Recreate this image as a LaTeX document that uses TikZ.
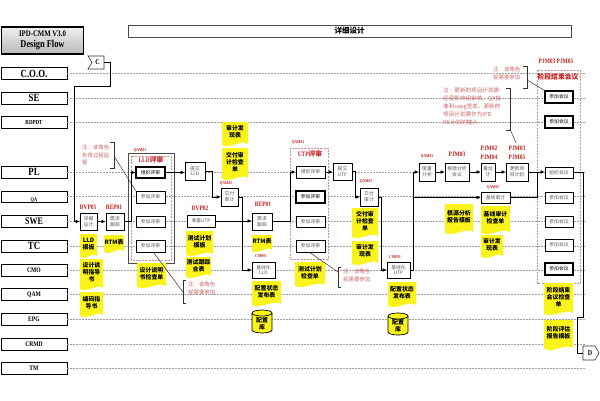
\documentclass[tikz,border=0pt]{standalone}
\usepackage{fontspec}
\setmainfont{Liberation Serif}[FakeStretch=0.8]
\newfontfamily\cjk{Noto Sans CJK SC}
\usetikzlibrary{arrows.meta,calc}
\definecolor{labred}{HTML}{C81E1E}
\definecolor{notec}{HTML}{CF6262}
\definecolor{docy}{HTML}{FAF41A}
\definecolor{grpc}{HTML}{D98A8A}
\newcommand{\mkbox}[7][]{\node[pbox,#1,minimum width={(#5-#3)*1pt},minimum height={(#6-#4)*1pt}] (#2) at ({(#3+#5)/2},{(#4+#6)/2}) {#7};}
\newcommand{\mkdoc}[6]{%
  \fill[docy] (#2,#3) -- (#4,#3) -- (#4,#5-2) .. controls ({#2+0.75*(#4-#2)},#5-7) and ({#2+0.35*(#4-#2)},#5+3) .. (#2,#5-1) -- cycle;
  \node[doctext] (#1) at ({(#2+#4)/2},{(#3+#5)/2-2}) {#6};}
\newcommand{\mkcyl}[6]{%
  \pgfmathsetmacro\cylr{(#4-#2)/2}
  \filldraw[cylst] (#2,#3+3) -- (#2,#5-3) arc[start angle=180,end angle=360,x radius=\cylr pt,y radius=3pt] -- (#4,#3+3) arc[start angle=0,end angle=180,x radius=\cylr pt,y radius=3pt] -- cycle;
  \draw[cylst] (#2,#3+3) arc[start angle=180,end angle=360,x radius=\cylr pt,y radius=3pt];
  \node[doctext] (#1) at ({(#2+#4)/2},{(#3+#5)/2+2}) {#6};}
\begin{document}
\begin{tikzpicture}[x=1pt,y=-1pt,
  lane/.style={draw=gray!75,line width=0.8pt,dash pattern=on 2pt off 1pt},
  lanebox/.style={draw,line width=0.8pt,fill=white,minimum width=66pt,minimum height=12pt,inner sep=0pt,font=\bfseries\fontsize{11}{11}\selectfont},
  lanesm/.style={lanebox,font=\bfseries\fontsize{7}{7}\selectfont},
  pbox/.style={draw,line width=0.7pt,fill=white,inner sep=0pt,align=center,text=black!65,font=\cjk\fontsize{4.8}{5.8}\selectfont},
  thk/.style={line width=1.2pt,text=black},
  doctext/.style={inner sep=0pt,align=center,text=black,font=\cjk\bfseries\fontsize{5.9}{7.2}\selectfont},
  cylst/.style={draw=black,fill=docy,line width=0.7pt},
  lab/.style={inner sep=0pt,text=labred,font=\bfseries\fontsize{6.8}{7}\selectfont},
  labs/.style={inner sep=0pt,text=labred,font=\bfseries\fontsize{4.4}{5}\selectfont},
  labc/.style={inner sep=0pt,text=labred,font=\bfseries\fontsize{6.8}{7}\selectfont},
  note/.style={inner sep=0pt,align=left,anchor=north west,text=notec,font=\cjk\fontsize{5.4}{7.5}\selectfont},
  brk/.style={draw=black!80,line width=0.5pt},
  grp/.style={draw=grpc,line width=0.7pt,dash pattern=on 2pt off 1.2pt},
  conn/.style={draw=black,line width=0.6pt},
  arr/.style={conn,-{Latex[length=4pt,width=3.6pt]}},
  flagst/.style={draw=black!80,line width=0.6pt,fill=white}]
\useasboundingbox (0,0) rectangle (600,400);
\fill[white] (0,0) rectangle (600,400);
\coordinate (endx) at (586,0);
% title and header
\node[draw,line width=1.3pt,top color=gray!12,bottom color=gray!55,minimum width=82pt,minimum height=27pt,inner sep=0pt,align=center,font=\bfseries\fontsize{8.5}{11}\selectfont] (title) at (42.5,40.5) {IPD-CMM V3.0\\{\fontsize{10.5}{11}\selectfont Design Flow}};
\node[draw=gray!60!black,line width=0.9pt,fill=white,minimum width=443pt,minimum height=12pt,inner sep=0pt,font=\cjk\bfseries\fontsize{7.5}{8}\selectfont] (hdr) at (349.5,31) {详细设计};
% lanes
\node[lanebox] (lcoo) at (34,73.5) {C.O.O.};
\node[lanebox] (lse) at (34,98) {SE};
\node[lanesm,font=\bfseries\fontsize{6.2}{7}\selectfont] (lrd) at (34,122.5) {RDPDT};
\node[lanebox] (lpl) at (34,172) {PL};
\node[lanesm,minimum height=11pt] (lqa) at (34,196.5) {};
\node[inner sep=0pt,font=\bfseries\fontsize{5.5}{6}\selectfont] (lqat) at (34,200) {QA};
\node[lanebox,font=\bfseries\fontsize{10}{10}\selectfont] (lswe) at (34,221.5) {SWE};
\node[lanebox] (ltc) at (34,246) {TC};
\node[lanesm] (lcmo) at (34,270) {CMO};
\node[lanesm] (lqam) at (34,294.5) {QAM};
\node[lanesm] (lepg) at (34,319.5) {EPG};
\node[lanesm] (lcrmd) at (34,344) {CRMD};
\node[lanesm] (ltm) at (34,368.5) {TM};
\foreach \n in {lcoo,lse,lrd,lpl,lqa,lswe,ltc,lcmo,lqam,lepg,lcrmd,ltm}
  \draw[lane] (\n.east) -- (\n.east -| endx);
% C flag
\draw[flagst] (88,56) -- (104,56) -- (104,69) -- (88,69) -- (92,62.5) -- cycle;
\node[inner sep=0pt,font=\bfseries\fontsize{7.5}{8}\selectfont] (cflag) at (97.5,62.5) {C};
\coordinate (cout) at (104,62.5);
% D flag
\draw[flagst] (583,346) -- (595,346) -- (599,353) -- (595,360) -- (583,360) -- cycle;
\node[inner sep=0pt,font=\bfseries\fontsize{7.5}{8}\selectfont] (dflag) at (590,353) {D};
\coordinate (din) at (583,353);
% groups
\draw[draw=gray!60!black,line width=0.6pt] (128,153) rectangle (174,263);
\draw[grp] (131,156) rectangle (171,260);
\draw[grp] (290,148) rectangle (328,259);
\draw[grp] (537,70) rectangle (580,283);
% process boxes
\mkbox{dvp05}{80}{213}{97}{230}{详细\\设计}
\mkbox{rep01a}{106}{213}{124}{230}{需求\\跟踪}
\mkbox[thk]{lldorg}{136}{167}{165}{178}{组织评审}
\mkbox{lldqa}{136}{191}{165}{203}{参加评审}
\mkbox{lldswe}{136}{216}{165}{227}{参加评审}
\mkbox{lldtc}{136}{240}{165}{252}{参加评审}
\mkbox{tlld}{185}{162}{205}{180}{提交\\LLD}
\mkbox{jfsj1}{221}{188}{238}{206}{交付\\审计}
\mkbox{zbutp}{187}{215}{215}{227}{准备UTP}
\mkbox{rep01b}{252}{213}{272}{230}{需求\\跟踪}
\mkbox{jxlld}{252}{262}{275}{278}{基线化\\LLD}
\mkbox{utporg}{296}{166}{325}{178}{组织评审}
\mkbox[thk]{utpqa}{296}{191}{325}{203}{参加评审}
\mkbox{utpswe}{296}{216}{325}{227}{参加评审}
\mkbox{utptc}{296}{240}{325}{252}{参加评审}
\mkbox{tutp}{333}{163}{352}{180}{提交\\UTP}
\mkbox{jfsj2}{360}{188}{378}{206}{交付\\审计}
\mkbox{jxutp}{387}{262}{410}{278}{基线化\\UTP}
\mkbox{dlfx}{419}{163}{435}{181}{度量\\分析}
\mkbox{gyfx}{445}{163}{469}{181}{根源分析\\会议}
\mkbox{cgj}{481}{163}{495}{181}{重估\\计}
\mkbox{gxjh}{506}{163}{528}{181}{更新项\\目计划}
\mkbox{jxsj}{481}{192}{510}{203}{基线审计}
\mkbox[thk]{chse}{545}{91}{573}{103}{参加会议}
\mkbox[thk]{chrd}{545}{116}{573}{128}{参加会议}
\mkbox{zzhy}{545}{167}{573}{178}{组织会议}
\mkbox{chqa}{545}{192}{573}{203}{参加会议}
\mkbox{chswe}{545}{216}{573}{227}{参加会议}
\mkbox{chtc}{545}{239}{573}{251}{参加会议}
\mkbox[thk]{chcmo}{545}{263}{573}{275}{参加会议}
% documents
\mkdoc{d1}{222}{122}{248}{146}{审计发\\现表}
\mkdoc{d2}{222}{148}{248}{180}{交付审\\计检查\\单}
\mkdoc{d3}{80}{234}{97}{258}{LLD\\模板}
\mkdoc{d4}{104}{235}{124}{253}{RTM表}
\mkdoc{d5}{80}{259}{103}{290}{设计说\\明指导\\书}
\mkdoc{d6}{80}{292}{103}{317}{编码指\\导书}
\mkdoc{d7}{137}{263}{166}{288}{设计说明\\书检查单}
\mkdoc{d8}{186}{231}{213}{256}{测试计划\\模板}
\mkdoc{d9}{186}{257}{211}{278}{测试跟踪\\合表}
\mkdoc{d10}{252}{235}{272}{252}{RTM表}
\mkdoc{d11}{252}{281}{281}{306}{配置状态\\发布表}
\mkcyl{cyl1}{252}{310}{272}{333}{配置\\库}
\mkdoc{d12}{295}{262}{325}{287}{测试计划\\检查单}
\mkdoc{d13}{352}{208}{378}{238}{交付审\\计检查\\单}
\mkdoc{d14}{352}{241}{378}{265}{审计发\\现表}
\mkdoc{d15}{388}{282}{416}{307}{配置状态\\发布表}
\mkcyl{cyl2}{388}{313}{408}{335}{配置\\库}
\mkdoc{d16}{445}{204}{473}{234}{根源分析\\报告模板}
\mkdoc{d17}{481}{206}{510}{234}{基线审计\\检查单}
\mkdoc{d18}{481}{235}{503}{258}{审计发\\现表}
\mkdoc{d19}{544}{283}{573}{315}{阶段结束\\会议检查\\单}
\mkdoc{d20}{544}{320}{573}{350}{阶段评估\\报告模板}
% red labels
\node[lab] (l1) at (88,207) {DVP05};
\node[lab] (l2) at (114,207) {REP01};
\node[labs] (l3) at (140,150.5) {QAM01};
\node[labc] (l4) at (151,159.5) {LLD{\cjk 评审}};
\node[lab] (l5) at (200,208) {DVP02};
\node[labs] (l6) at (226,183) {QAM02};
\node[lab] (l7) at (263,204) {REP01};
\node[labs] (l8) at (261,256) {CMP01};
\node[labs] (l9) at (298,142.5) {QAM01};
\node[labc] (l10) at (310,154) {UTP{\cjk 评审}};
\node[labs] (l11) at (366,181.5) {QAM02};
\node[labs] (l12) at (395,257) {CMP01};
\node[labs] (l13) at (427,156.5) {QAM03};
\node[lab] (l14) at (457,154) {PJM03};
\node[lab] (l15) at (489,148) {PJM02};
\node[lab] (l16) at (489,157) {PJM04};
\node[lab] (l17) at (517,148) {PJM03};
\node[lab] (l18) at (517,157) {PJM05};
\node[labs] (l19) at (493,187) {QAM02};
\node[lab] (l20) at (556,61.5) {PJM03 PJM05};
\node[labc] (l21) at (558,76.5) {\cjk 阶段结束会议};
% notes
\node[note] (n1) at (82,145) {注：该角色\\负责过程监\\督};
\draw[brk] (110,142) -- (114,142) -- (114,168) -- (110,168);
\draw[brk] (114,156) -- (lldqa.north west);
\node[note] (n2) at (188,282) {注：该角色\\视需要参加};
\draw[brk] (186,280) -- (183,280) -- (183,303) -- (186,303);
\draw[brk] ($(lldtc.south)+(3,0)$) -- (183,292);
\node[note] (n3) at (343,269) {注：该角色\\视需要参加};
\draw[brk] (341,267) -- (338,267) -- (338,287) -- (341,287);
\draw[brk] ($(utptc.south)+(-1,0)$) -- (338,272);
\node[note] (n4) at (493,67) {注：该角色\\视需要参加};
\draw[brk] (523,66) -- (527,66) -- (527,88) -- (523,88);
\draw[brk] (527,80) -- (chse.north west);
\node[note,font=\cjk\fontsize{5.6}{8}\selectfont] (n5) at (443,88) {注：更新的项目计划需\\经受影响组审核，QA批\\准和sepg签发，更新的\\项目计划需作为IPD\\KE计划的输入};
\draw[brk] (506,88) -- (510,88) -- (510,130) -- (506,130);
\draw[brk] (510,129) -- (516,143);
% connectors
\draw[arr] (cout) -- (110,62.5) -- (110,86) -- (74,86) |- (dvp05.west);
\draw[arr] (dvp05) -- (rep01a);
\draw[arr] (rep01a.east) -- (131,221.5) |- (lldorg.west);
\draw[arr] (lldorg.east) -- (lldorg.east -| tlld.west);
\draw[arr] (tlld.east) -- ++(7,0) |- (jfsj1.west);
\draw[arr] (jfsj1.east) -- ++(4,0) |- (jxlld.west);
\draw[arr] (zbutp.east) -- (zbutp.east -| rep01b.west);
\draw[arr] (rep01b.east) -- (290,221.5) |- (utporg.west);
\draw[arr] (utporg.east) -- (utporg.east -| tutp.west);
\draw[arr] (tutp.east) -- ++(3,0) |- (jfsj2.west);
\draw[arr] (jfsj2.east) -- ++(3,0) |- (jxutp.west);
\coordinate (vx) at (413,0);
\draw[arr] (jxutp.east) -- (jxutp.east -| vx) |- (dlfx.west);
\draw[arr] (vx |- jxsj.west) -- (jxsj.west);
\draw[arr] (dlfx) -- (gyfx);
\draw[arr] (gyfx) -- (cgj);
\draw[arr] (cgj) -- (gxjh);
\draw[arr] (gxjh.east) -- (gxjh.east -| zzhy.west);
\draw[conn] (jxsj.east) -- (537,197.5) -- (537,172);
\draw[conn] (zzhy.east) -- (583,172.5) -- (583,317) -- (577,317) -- (577,353) -- (din);
\end{tikzpicture}
\end{document}
